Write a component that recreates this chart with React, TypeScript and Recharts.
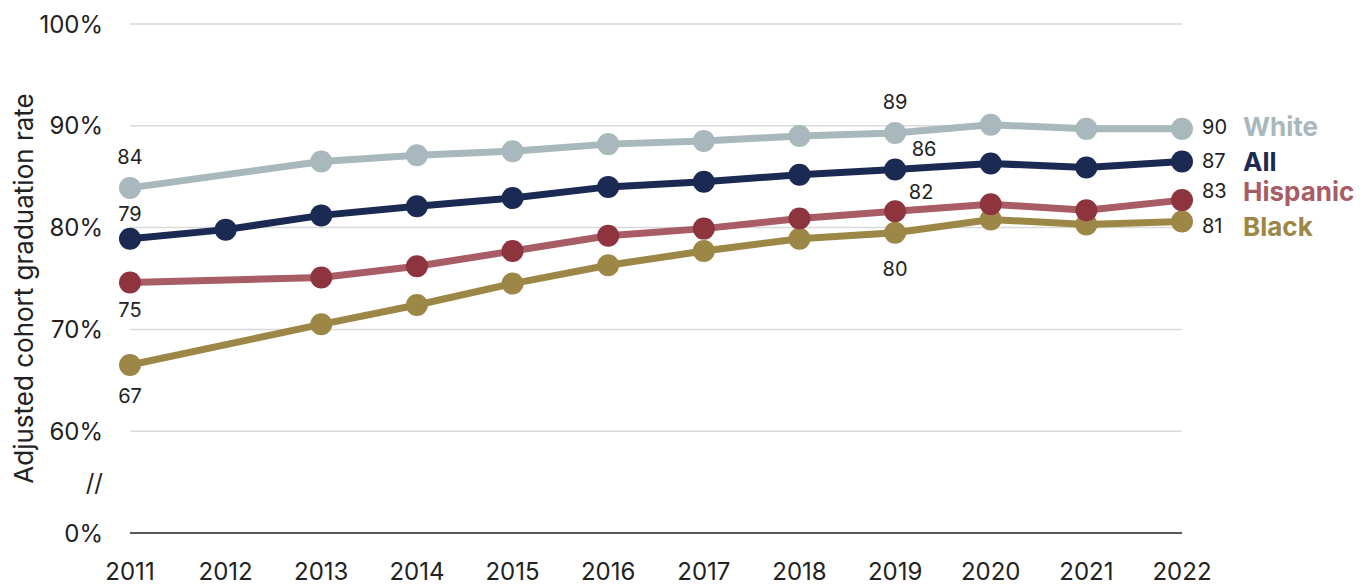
import React from "react";
import { LineChart, Line, XAxis, YAxis, CartesianGrid, LabelList } from "recharts";

const years = [2011, 2012, 2013, 2014, 2015, 2016, 2017, 2018, 2019, 2020, 2021, 2022];
const allRate = [78.9, 79.8, 81.2, 82.1, 82.9, 84.0, 84.5, 85.2, 85.7, 86.3, 85.9, 86.5];
const whiteRate = [83.9, null, 86.5, 87.1, 87.5, 88.2, 88.5, 89.0, 89.3, 90.1, 89.7, 89.7];
const hispanicRate = [74.6, null, 75.1, 76.2, 77.7, 79.2, 79.9, 80.9, 81.6, 82.3, 81.7, 82.7];
const blackRate = [66.5, null, 70.5, 72.4, 74.5, 76.3, 77.7, 78.9, 79.5, 80.8, 80.3, 80.6];

const yTicks = [50, 55, 60, 70, 80, 90, 100];
const gridValues = [60, 70, 80, 90, 100];
const labelIndices = [0, 8, 11];

const data = years.map((year, i) => ({
  year,
  all: allRate[i],
  white: whiteRate[i],
  hispanic: hispanicRate[i],
  black: blackRate[i],
}));

const FONT = "Inter, 'DejaVu Sans', sans-serif";

type Offs = { first: [number, number]; mid: [number, number]; last: number };

const makeLabel = (name: string, color: string, offs: Offs) => (props: any) => {
  const { x, y, value, index } = props;
  if (value == null || !labelIndices.includes(index)) return null;
  const txt = String(Math.round(value));
  if (index === 0) {
    return (
      <text x={x} y={y + offs.first[1]} textAnchor="middle" dominantBaseline="central"
        fontFamily={FONT} fontSize={20} fill="#222">{txt}</text>
    );
  }
  if (index === 8) {
    return (
      <text x={x + offs.mid[0]} y={y + offs.mid[1]} textAnchor="middle" dominantBaseline="central"
        fontFamily={FONT} fontSize={20} fill="#222">{txt}</text>
    );
  }
  return (
    <g>
      <text x={x + 20} y={y + offs.last} textAnchor="start" dominantBaseline="central"
        fontFamily={FONT} fontSize={20} fill="#222">{txt}</text>
      <text x={x + 61} y={y + offs.last} textAnchor="start" dominantBaseline="central"
        fontFamily={FONT} fontSize={26} fontWeight={700} fill={color}>{name}</text>
    </g>
  );
};

const C_WHITE = "#a8b8bc";
const C_ALL = "#1b2a52";
const C_HISP = "#a85c65";
const C_HISP_DOT = "#8e343e";
const C_BLACK = "#9c8746";

const YTitle = (props: any) => {
  const vb = props.viewBox || {};
  const cy = (vb.y || 0) + (vb.height || 0) / 2 + 10;
  return (
    <text x={15} y={cy} transform={`rotate(-90, 15, ${cy})`} textAnchor="middle"
      dominantBaseline="central" fontFamily={FONT} fontSize={26} fill="#222">
      Adjusted cohort graduation rate
    </text>
  );
};

export default function App() {
  return (
    <div style={{ width: 1361, height: 578 }}>
      <LineChart width={1361} height={578} data={data}
        margin={{ top: 16, right: 187, bottom: 0, left: 0 }}>
        <CartesianGrid vertical={false} horizontalValues={gridValues} stroke="#d9d9d9" strokeWidth={1.5} />
        <XAxis dataKey="year" axisLine={{ stroke: "#222", strokeWidth: 1.5 }} tickLine={false}
          tickSize={0} tickMargin={30} height={53} interval={0}
          tick={{ fontFamily: FONT, fontSize: 24, fill: "#222" }} />
        <YAxis type="number" domain={[50, 100]} ticks={yTicks} width={122}
          axisLine={false} tickLine={false} tickSize={0} tickMargin={27}
          tickFormatter={(v: number) => (v === 50 ? "0%" : v === 55 ? "//" : `${v}%`)}
          tick={{ fontFamily: FONT, fontSize: 24, fill: "#222" }}
          label={{ content: (p: any) => <YTitle {...p} /> }} />
        <Line dataKey="black" stroke={C_BLACK} strokeWidth={7} connectNulls isAnimationActive={false}
          dot={{ r: 11, fill: C_BLACK, stroke: "none" }} activeDot={false}>
          <LabelList dataKey="black" content={makeLabel("Black", C_BLACK, { first: [0, 31], mid: [0, 36], last: 5 })} />
        </Line>
        <Line dataKey="hispanic" stroke={C_HISP} strokeWidth={7} connectNulls isAnimationActive={false}
          dot={{ r: 11, fill: C_HISP_DOT, stroke: "none" }} activeDot={false}>
          <LabelList dataKey="hispanic" content={makeLabel("Hispanic", C_HISP, { first: [0, 27], mid: [26, -19], last: -9 })} />
        </Line>
        <Line dataKey="all" stroke={C_ALL} strokeWidth={7} connectNulls isAnimationActive={false}
          dot={{ r: 11, fill: C_ALL, stroke: "none" }} activeDot={false}>
          <LabelList dataKey="all" content={makeLabel("All", C_ALL, { first: [0, -25], mid: [29, -21], last: 0 })} />
        </Line>
        <Line dataKey="white" stroke={C_WHITE} strokeWidth={7} connectNulls isAnimationActive={false}
          dot={{ r: 11, fill: C_WHITE, stroke: "none" }} activeDot={false}>
          <LabelList dataKey="white" content={makeLabel("White", C_WHITE, { first: [0, -31], mid: [0, -31], last: -2 })} />
        </Line>
      </LineChart>
    </div>
  );
}
